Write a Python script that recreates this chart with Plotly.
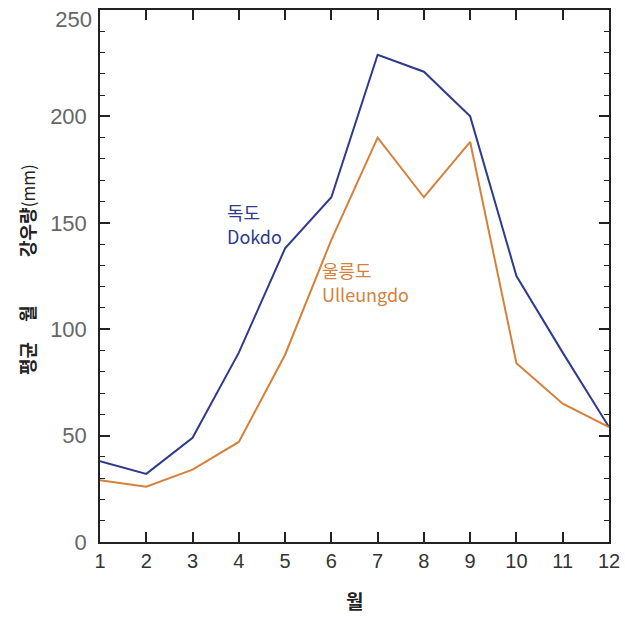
import plotly.graph_objects as go

months = list(range(1, 13))
dokdo = [38, 32, 49, 89, 138, 162, 229, 221, 200, 125, 89, 54]
ulleungdo = [29, 26, 34, 47, 88, 142, 190, 162, 188, 84, 65, 54]
y_ticks = [0, 50, 100, 150, 200]
y_top_tick = [250]

BLUE = "#2e3a8c"
ORANGE = "#d6813a"
KR_FONT = "Noto Sans CJK KR"
NUM_FONT = "Liberation Sans"

W, H = 625, 620
ML, MR, MT, MB = 100, 16, 10, 78
PW, PH = W - ML - MR, H - MT - MB

fig = go.Figure()
fig.add_trace(go.Scatter(x=months, y=dokdo, mode="lines",
                         line=dict(color=BLUE, width=2), name="Dokdo"))
fig.add_trace(go.Scatter(x=months, y=ulleungdo, mode="lines",
                         line=dict(color=ORANGE, width=2), name="Ulleungdo"))

axis_common = dict(
    showgrid=False, zeroline=False, showline=True, linecolor="#222",
    linewidth=1.5, mirror="ticks", ticks="inside", tickcolor="#222",
    automargin=False, ticklabeloverflow="allow",
)
ytickfont = dict(family=NUM_FONT, size=22, color="#666")

fig.update_xaxes(
    range=[1, 12], tickmode="array", tickvals=months,
    ticktext=[str(m) for m in months], ticklen=10, tickwidth=1.5,
    tickfont=dict(family=NUM_FONT, size=20, color="#333"),
    **axis_common,
)
fig.update_yaxes(
    range=[0, 250], tickmode="array",
    tickvals=y_ticks + y_top_tick, ticktext=[str(v) for v in y_ticks] + [""],
    ticklen=10, tickwidth=1.5, ticklabelstandoff=7,
    tickfont=ytickfont,
    minor=dict(tickmode="linear", tick0=0, dtick=10, ticks="inside",
               ticklen=5, tickcolor="#222", tickwidth=1),
    **axis_common,
)
# The top label sits slightly lower so it stays inside the page
fig.update_layout(yaxis2=dict(
    overlaying="y", side="left", range=[0, 250], tickmode="array",
    tickvals=y_top_tick, ticktext=[str(v) for v in y_top_tick],
    showline=False, showgrid=False, zeroline=False, ticks="",
    ticklabelstandoff=7, ticklabelshift=9, tickfont=ytickfont,
    automargin=False, ticklabeloverflow="allow",
))
fig.add_trace(go.Scatter(x=[None], y=[None], yaxis="y2", showlegend=False,
                         hoverinfo="skip"))

# Series labels placed next to their lines
labels = [
    (3.70, 155, "독도", BLUE),
    (3.70, 144, "Dokdo", BLUE),
    (5.75, 128, "울릉도", ORANGE),
    (5.75, 116.5, "Ulleungdo", ORANGE),
]
for lx, ly, txt, col in labels:
    fig.add_annotation(x=lx, y=ly, xref="x", yref="y", xanchor="left",
                       yanchor="middle", text=txt, showarrow=False,
                       font=dict(family=KR_FONT, size=18, color=col))

# Rotated y-axis title, word by word (pixel centres converted to paper units)
ytitle_parts = [
    (359, "<b>평균</b>"),
    (314, "<b>월</b>"),
    (211, "<b>강우량</b><span style='font-size:17px'>(mm)</span>"),
]
for py, txt in ytitle_parts:
    fig.add_annotation(x=(27 - ML) / PW, y=(H - MB - py) / PH,
                       xref="paper", yref="paper",
                       text=txt, showarrow=False, textangle=-90,
                       xanchor="center", yanchor="middle",
                       font=dict(family=KR_FONT, size=18, color="#222"))

fig.add_annotation(x=0.5, y=(H - MB - 600) / PH, xref="paper", yref="paper",
                   xanchor="center", yanchor="middle",
                   text="<b>월</b>", showarrow=False,
                   font=dict(family=KR_FONT, size=19, color="#222"))

fig.update_layout(
    width=W, height=H,
    margin=dict(l=ML, r=MR, t=MT, b=MB),
    paper_bgcolor="white", plot_bgcolor="white",
    showlegend=False,
)

fig.write_html("out.html")
